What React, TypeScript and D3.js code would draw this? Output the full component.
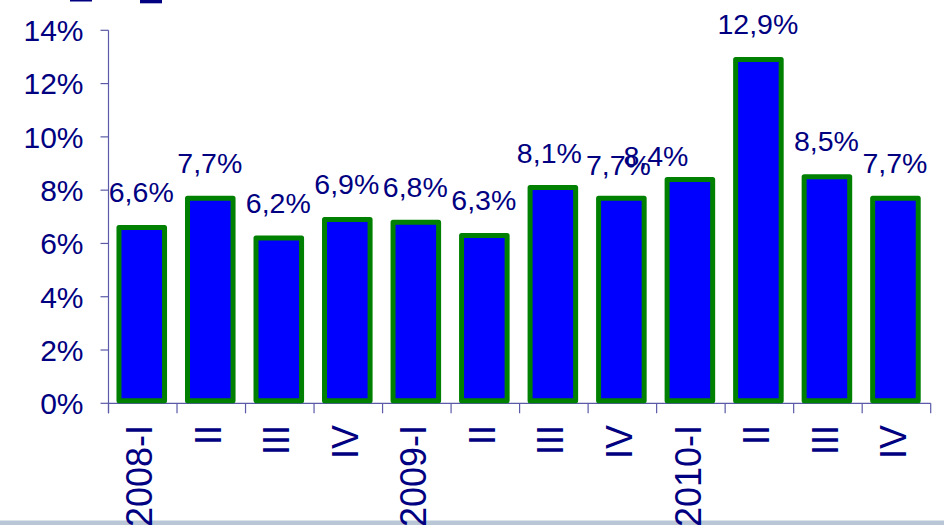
import React from "react";
import * as d3 from "d3";

const categories = ["2008-I", "II", "III", "IV", "2009-I", "II", "III", "IV", "2010-I", "II", "III", "IV"];
const values = [6.6, 7.7, 6.2, 6.9, 6.8, 6.3, 8.1, 7.7, 8.4, 12.9, 8.5, 7.7];
const yTicks = [0, 2, 4, 6, 8, 10, 12, 14];

const W = 944;
const H = 525;
const FONT = "'Liberation Sans', Arial, Helvetica, sans-serif";
const NAVY = "#000080";
const AXIS = "#5a5aa8";

// manual label nudges (as placed in the original)
const labelNudge: Record<number, [number, number]> = {
  6: [-3, 1.5],
  7: [-2.5, 2.5],
  8: [-33.5, 12],
};

export default function App() {
  const idx = categories.map((_, i) => i);
  const x = d3
    .scaleBand<number>()
    .domain(idx)
    .range([108.5, 930.7])
    .paddingInner(0.335)
    .paddingOuter(0.1675);
  const y = d3.scaleLinear().domain([0, 14]).range([403.3, 30.3]);
  const step = x.step();
  const x0 = x.range()[0];
  const fmt = (v: number) => v.toFixed(1).replace(".", ",") + "%";

  return (
    <svg
      width={W}
      height={H}
      style={{ position: "absolute", left: 0, top: 0, display: "block", background: "#fff" }}
    >
      {/* fragments of a title cut off at the top */}
      <rect x={70} y={0} width={22} height={1.5} fill={NAVY} />
      <rect x={140} y={0} width={22} height={3.3} fill={NAVY} />

      {/* y axis */}
      <line x1={108.5} x2={108.5} y1={y(14)} y2={y(0) + 10} stroke={AXIS} strokeWidth={1.2} />
      {yTicks.map((t) => (
        <g key={t}>
          <line x1={100.5} x2={108.5} y1={y(t)} y2={y(t)} stroke={AXIS} strokeWidth={1.2} />
          <text
            x={83.5}
            y={y(t)}
            dy="0.36em"
            textAnchor="end"
            fontFamily={FONT}
            fontSize={30}
            fill={NAVY}
          >
            {t + "%"}
          </text>
        </g>
      ))}

      {/* x axis */}
      <line x1={108.5} x2={x0 + step * categories.length} y1={y(0)} y2={y(0)} stroke={AXIS} strokeWidth={1.2} />
      {d3.range(categories.length + 1).map((i) => (
        <line
          key={i}
          x1={x0 + i * step}
          x2={x0 + i * step}
          y1={y(0)}
          y2={y(0) + 10}
          stroke={AXIS}
          strokeWidth={1.2}
        />
      ))}

      {/* bars */}
      {values.map((v, i) => (
        <rect
          key={i}
          x={x(i)! - 1}
          y={y(v)}
          width={x.bandwidth()}
          height={y(0) - y(v) - 2.5}
          fill="#0000ff"
          stroke="#008000"
          strokeWidth={5}
          strokeLinejoin="round"
        />
      ))}

      {/* data labels */}
      {values.map((v, i) => {
        const [dx, dy] = labelNudge[i] || [0, 0];
        return (
          <text
            key={i}
            x={x(i)! + x.bandwidth() / 2 - 1.5 + dx}
            y={y(v) - 25.5 + dy}
            textAnchor="middle"
            fontFamily={FONT}
            fontSize={28.5}
            fill={NAVY}
          >
            {fmt(v)}
          </text>
        );
      })}

      {/* bottom band */}
      <rect x={0} y={520.5} width={W} height={H - 520.5} fill="#b8c6d6" />

      {/* category labels */}
      {categories.map((c, i) => {
        const cx = x(i)! + x.bandwidth() / 2 - 3;
        return (
          <text
            key={i}
            transform={`translate(${cx},425) rotate(-90)`}
            dy="0.35em"
            textAnchor="end"
            fontFamily={FONT}
            fontSize={36}
            fill={NAVY}
          >
            {c}
          </text>
        );
      })}
    </svg>
  );
}
